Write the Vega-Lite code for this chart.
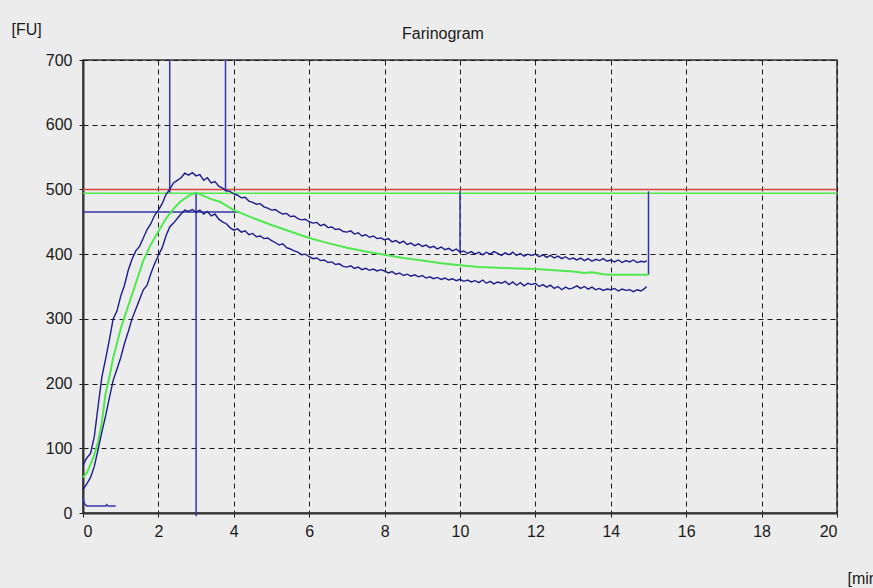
{
  "$schema": "https://vega.github.io/schema/vega-lite/v6.json",
  "autosize": "none",
  "width": 754,
  "height": 453,
  "padding": {"left": 83, "top": 60, "right": 36, "bottom": 75},
  "background": "#ececec",
  "title": {"text": "Farinogram", "font": "Liberation Sans", "fontSize": 16, "fontWeight": "normal", "color": "#1a1a1a", "anchor": "middle", "frame": "group", "dx": -17, "offset": 0, "dy": 21},
  "config": {
    "view": {"stroke": "#333333", "strokeWidth": 1.5, "fill": "#ececec"},
    "axis": {
      "labelFont": "Liberation Sans", "labelFontSize": 16, "labelColor": "#1a1a1a",
      "titleFont": "Liberation Sans", "titleFontSize": 16, "titleFontWeight": "normal", "titleColor": "#1a1a1a",
      "grid": true, "gridColor": "#1a1a1a", "gridDash": [5, 4], "gridOpacity": 1, "gridWidth": 1,
      "tickColor": "#1a1a1a", "tickSize": 4, "domainColor": "#333333", "domainWidth": 2
    }
  },
  "datasets": {
    "env": [
      {"t":0.0,"u":74,"l":36},{"t":0.1,"u":85,"l":45},{"t":0.2,"u":92,"l":55},{"t":0.3,"u":118,"l":72},{"t":0.4,"u":165,"l":98},
      {"t":0.5,"u":210,"l":125},{"t":0.6,"u":238,"l":150},{"t":0.7,"u":268,"l":178},{"t":0.8,"u":300,"l":205},{"t":0.9,"u":312,"l":222},
      {"t":1.0,"u":335,"l":240},{"t":1.1,"u":352,"l":262},{"t":1.2,"u":375,"l":280},{"t":1.3,"u":392,"l":300},{"t":1.4,"u":405,"l":315},
      {"t":1.5,"u":412,"l":330},{"t":1.6,"u":425,"l":345},{"t":1.7,"u":438,"l":352},{"t":1.8,"u":447,"l":370},{"t":1.9,"u":460,"l":385},
      {"t":2.0,"u":468,"l":398},{"t":2.1,"u":478,"l":410},{"t":2.2,"u":492,"l":428},{"t":2.3,"u":500,"l":442},{"t":2.4,"u":510,"l":448},
      {"t":2.5,"u":514,"l":455},{"t":2.6,"u":518,"l":462},{"t":2.7,"u":525,"l":468},{"t":2.8,"u":522,"l":466},{"t":2.9,"u":526,"l":469},
      {"t":3.0,"u":521,"l":465},{"t":3.1,"u":523,"l":468},{"t":3.2,"u":514,"l":462},{"t":3.3,"u":518,"l":466},{"t":3.4,"u":510,"l":459},
      {"t":3.5,"u":512,"l":462},{"t":3.6,"u":505,"l":454},{"t":3.7,"u":502,"l":450},{"t":3.8,"u":498,"l":447},{"t":3.9,"u":497,"l":441},
      {"t":4.0,"u":493,"l":437},{"t":4.1,"u":491,"l":439},{"t":4.2,"u":487,"l":434},{"t":4.3,"u":488,"l":436},{"t":4.4,"u":482,"l":430},
      {"t":4.5,"u":480,"l":432},{"t":4.6,"u":477,"l":427},{"t":4.7,"u":478,"l":428},{"t":4.8,"u":473,"l":424},{"t":4.9,"u":471,"l":425},
      {"t":5.0,"u":468,"l":421},{"t":5.1,"u":469,"l":418},{"t":5.2,"u":465,"l":414},{"t":5.3,"u":462,"l":416},{"t":5.4,"u":463,"l":410},
      {"t":5.5,"u":458,"l":408},{"t":5.6,"u":459,"l":405},{"t":5.7,"u":455,"l":403},{"t":5.8,"u":453,"l":399},{"t":5.9,"u":454,"l":400},
      {"t":6.0,"u":450,"l":396},{"t":6.1,"u":448,"l":393},{"t":6.2,"u":449,"l":394},{"t":6.3,"u":444,"l":390},{"t":6.4,"u":446,"l":391},
      {"t":6.5,"u":441,"l":387},{"t":6.6,"u":442,"l":388},{"t":6.7,"u":438,"l":384},{"t":6.8,"u":439,"l":385},{"t":6.9,"u":435,"l":381},
      {"t":7.0,"u":434,"l":380},{"t":7.1,"u":436,"l":382},{"t":7.2,"u":431,"l":378},{"t":7.3,"u":433,"l":380},{"t":7.4,"u":428,"l":376},
      {"t":7.5,"u":430,"l":378},{"t":7.6,"u":426,"l":375},{"t":7.7,"u":428,"l":377},{"t":7.8,"u":424,"l":374},{"t":7.9,"u":425,"l":376},
      {"t":8.0,"u":422,"l":374},{"t":8.1,"u":424,"l":371},{"t":8.2,"u":419,"l":373},{"t":8.3,"u":421,"l":369},{"t":8.4,"u":417,"l":371},
      {"t":8.5,"u":420,"l":367},{"t":8.6,"u":415,"l":369},{"t":8.7,"u":417,"l":366},{"t":8.8,"u":413,"l":368},{"t":8.9,"u":416,"l":365},
      {"t":9.0,"u":412,"l":367},{"t":9.1,"u":414,"l":363},{"t":9.2,"u":410,"l":365},{"t":9.3,"u":412,"l":362},{"t":9.4,"u":408,"l":364},
      {"t":9.5,"u":411,"l":361},{"t":9.6,"u":407,"l":363},{"t":9.7,"u":409,"l":360},{"t":9.8,"u":405,"l":362},{"t":9.9,"u":408,"l":359},
      {"t":10.0,"u":403,"l":361},{"t":10.1,"u":405,"l":358},{"t":10.2,"u":401,"l":360},{"t":10.3,"u":404,"l":357},{"t":10.4,"u":400,"l":359},
      {"t":10.5,"u":403,"l":356},{"t":10.6,"u":399,"l":360},{"t":10.7,"u":403,"l":355},{"t":10.8,"u":400,"l":358},{"t":10.9,"u":404,"l":354},
      {"t":11.0,"u":401,"l":357},{"t":11.1,"u":398,"l":355},{"t":11.2,"u":402,"l":358},{"t":11.3,"u":399,"l":353},{"t":11.4,"u":403,"l":357},
      {"t":11.5,"u":398,"l":352},{"t":11.6,"u":401,"l":356},{"t":11.7,"u":397,"l":351},{"t":11.8,"u":400,"l":355},{"t":11.9,"u":398,"l":353},
      {"t":12.0,"u":400,"l":355},{"t":12.1,"u":396,"l":350},{"t":12.2,"u":399,"l":353},{"t":12.3,"u":395,"l":349},{"t":12.4,"u":398,"l":352},
      {"t":12.5,"u":394,"l":347},{"t":12.6,"u":397,"l":350},{"t":12.7,"u":393,"l":345},{"t":12.8,"u":396,"l":349},{"t":12.9,"u":392,"l":346},
      {"t":13.0,"u":394,"l":348},{"t":13.1,"u":391,"l":351},{"t":13.2,"u":394,"l":347},{"t":13.3,"u":390,"l":350},{"t":13.4,"u":393,"l":346},
      {"t":13.5,"u":389,"l":349},{"t":13.6,"u":392,"l":345},{"t":13.7,"u":390,"l":347},{"t":13.8,"u":393,"l":344},{"t":13.9,"u":389,"l":346},
      {"t":14.0,"u":391,"l":345},{"t":14.1,"u":388,"l":347},{"t":14.2,"u":391,"l":343},{"t":14.3,"u":387,"l":346},{"t":14.4,"u":390,"l":344},
      {"t":14.5,"u":388,"l":345},{"t":14.6,"u":391,"l":342},{"t":14.7,"u":387,"l":345},{"t":14.8,"u":389,"l":343},{"t":14.9,"u":388,"l":347},
      {"t":14.95,"u":390,"l":350}
    ],
    "mid": [
      {"t":0.0,"g":55},{"t":0.1,"g":62},{"t":0.2,"g":75},{"t":0.3,"g":90},{"t":0.4,"g":110},{"t":0.5,"g":140},{"t":0.6,"g":185},
      {"t":0.7,"g":210},{"t":0.8,"g":240},{"t":0.9,"g":262},{"t":1.0,"g":285},{"t":1.2,"g":320},{"t":1.4,"g":355},{"t":1.6,"g":390},
      {"t":1.8,"g":415},{"t":2.0,"g":435},{"t":2.2,"g":455},{"t":2.4,"g":470},{"t":2.6,"g":482},{"t":2.8,"g":490},{"t":3.0,"g":495},
      {"t":3.2,"g":490},{"t":3.4,"g":485},{"t":3.63,"g":481},{"t":4.0,"g":468},{"t":4.5,"g":456},{"t":5.0,"g":445},{"t":5.5,"g":435},
      {"t":6.0,"g":425},{"t":6.5,"g":417},{"t":7.0,"g":410},{"t":7.5,"g":404},{"t":8.0,"g":399},{"t":8.5,"g":394},{"t":9.0,"g":390},
      {"t":9.5,"g":386},{"t":10.0,"g":383},{"t":10.5,"g":380},{"t":11.0,"g":379},{"t":11.5,"g":378},{"t":12.0,"g":377},{"t":12.5,"g":375},
      {"t":13.0,"g":373},{"t":13.3,"g":371},{"t":13.5,"g":372},{"t":13.8,"g":369},{"t":14.0,"g":368},{"t":15.0,"g":368}
    ],
    "base": [
      {"t":0.0,"v":23},{"t":0.04,"v":14},{"t":0.1,"v":11},{"t":0.6,"v":11},{"t":0.63,"v":13},{"t":0.66,"v":11},{"t":0.87,"v":11}
    ],
    "marks": [
      {"kind":"limit","x":0,"x2":20,"y":500,"y2":500},
      {"kind":"band","x":0,"x2":20,"y":494,"y2":494},
      {"kind":"marker","x":0,"x2":4.15,"y":465,"y2":465},
      {"kind":"marker","x":2.3,"x2":2.3,"y":495,"y2":700},
      {"kind":"marker","x":3.78,"x2":3.78,"y":497,"y2":700},
      {"kind":"marker","x":3.0,"x2":3.0,"y":495,"y2":-5},
      {"kind":"marker","x":10,"x2":10,"y":497,"y2":403},
      {"kind":"marker","x":15,"x2":15,"y":497,"y2":368}
    ]
  },
  "layer": [
    {
      "data": {"name": "marks"},
      "mark": {"type": "rule", "strokeWidth": 1.5},
      "encoding": {
        "x": {"field": "x", "type": "quantitative", "scale": {"domain": [0, 20], "nice": false}, "axis": {"values": [0,2,4,6,8,10,12,14,16,18,20], "title": "[min]", "titleAngle": 0, "titleAlign": "left", "titleBaseline": "alphabetic", "titleX": 764, "titleY": 70, "labelPadding": 6}},
        "x2": {"field": "x2"},
        "y": {"field": "y", "type": "quantitative", "scale": {"domain": [0, 700], "nice": false}, "axis": {"values": [0,100,200,300,400,500,600,700], "title": "[FU]", "titleAngle": 0, "titleAlign": "left", "titleBaseline": "alphabetic", "titleX": -72, "titleY": -26, "labelPadding": 7}},
        "y2": {"field": "y2"},
        "color": {"field": "kind", "type": "nominal", "scale": {"domain": ["limit", "band", "marker"], "range": ["#d8473a", "#4fe84f", "#3434a8"]}, "legend": null}
      }
    },
    {
      "data": {"name": "base"},
      "mark": {"type": "line", "color": "#3434a8", "strokeWidth": 1.5},
      "encoding": {"x": {"field": "t", "type": "quantitative"}, "y": {"field": "v", "type": "quantitative"}}
    },
    {
      "data": {"name": "mid"},
      "mark": {"type": "line", "color": "#4fe84f", "strokeWidth": 2},
      "encoding": {"x": {"field": "t", "type": "quantitative"}, "y": {"field": "g", "type": "quantitative"}}
    },
    {
      "data": {"name": "env"},
      "mark": {"type": "line", "color": "#1c1c8c", "strokeWidth": 1.4},
      "encoding": {"x": {"field": "t", "type": "quantitative"}, "y": {"field": "u", "type": "quantitative"}}
    },
    {
      "data": {"name": "env"},
      "mark": {"type": "line", "color": "#1c1c8c", "strokeWidth": 1.4},
      "encoding": {"x": {"field": "t", "type": "quantitative"}, "y": {"field": "l", "type": "quantitative"}}
    }
  ]
}
